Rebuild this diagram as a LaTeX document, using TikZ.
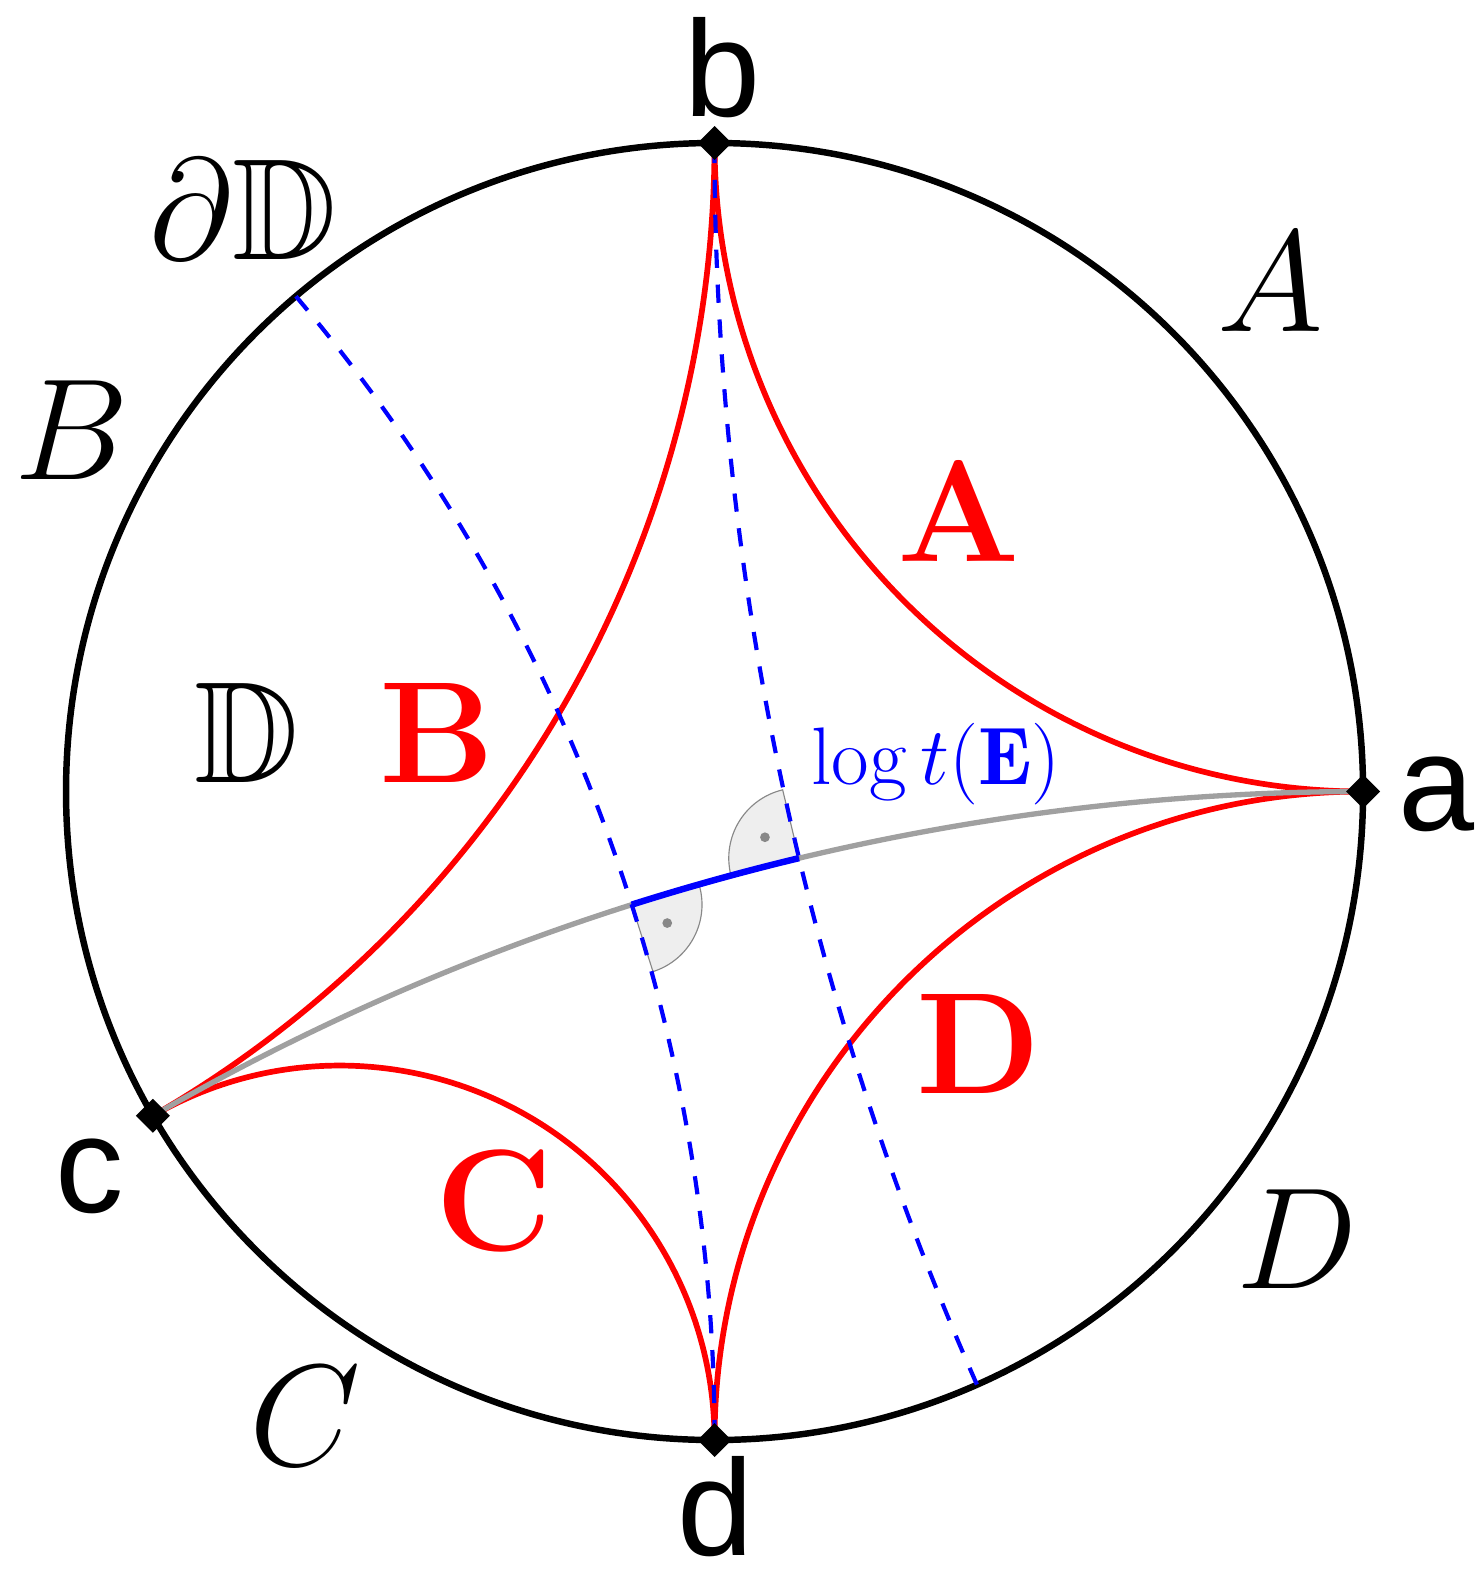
\RequirePackage{fix-cm}
\documentclass[tikz,border=0pt]{standalone}
\usepackage{amssymb}
\usepackage{fontspec}
\newfontfamily\sanslabel{Liberation Sans}
\usetikzlibrary{shapes.geometric}

\definecolor{geored}{RGB}{255, 0, 0}
\definecolor{geoblue}{RGB}{0, 0, 255}
\definecolor{geogray}{RGB}{160, 160, 160}
\definecolor{markfill}{RGB}{238, 238, 238}
\definecolor{markline}{RGB}{136, 136, 136}

\newcommand{\rdisk}{6}
% geodesic of the disk from angle #3 to angle #4, starting at point #2
\newcommand{\geodesic}[4][]{%
    \pgfmathsetmacro{\gmid}{(#3+#4)/2}%
    \pgfmathsetmacro{\ghalf}{(#4-#3)/2}%
    \pgfmathsetmacro{\grad}{\rdisk*tan(\ghalf)}%
    \draw[#1] (#2) arc[start angle=\gmid+270-\ghalf, end angle=\gmid+90+\ghalf, radius=\grad];
}

\tikzset{
    vertex/.style={diamond,fill=black,inner sep=0pt,minimum size=0.32cm},
    redgeo/.style={geored,line width=1.5pt},
    graygeo/.style={geogray,line width=1.4pt},
    dashgeo/.style={geoblue,line width=1.1pt,dash pattern=on 4.8pt off 4.4pt},
    rightmark/.style={fill=markfill,draw=markline,line width=0.3pt},
    ptlabel/.style={font=\sanslabel\fontsize{36}{40}\selectfont},
    arclabel/.style={font=\fontsize{38}{44}\selectfont},
    regionlabel/.style={font=\fontsize{38}{44}\selectfont\bfseries,text=geored}
}

\begin{document}
\begin{tikzpicture}
    \useasboundingbox (-6.611,-7.295) rectangle (7.101,7.323);

    % Ideal points
    \coordinate (a) at (0:\rdisk);
    \coordinate (b) at (90:\rdisk);
    \coordinate (c) at (210:\rdisk);
    \coordinate (d) at (270:\rdisk);
    \coordinate (bstar) at (293.865:\rdisk);
    \coordinate (dstar) at (130.21:\rdisk);

    % Feet of the perpendiculars
    \coordinate (FB) at (0.7817,-0.6165);
    \coordinate (FD) at (-0.7661,-1.0466);

    % Boundary circle
    \draw[line width=1.7pt] (0,0) circle (\rdisk);

    % Sides
    \geodesic[redgeo]{a}{0}{90}
    \geodesic[redgeo]{b}{90}{210}
    \geodesic[redgeo]{c}{210}{270}
    \geodesic[redgeo]{d}{270}{360}

    % Diagonal
    \geodesic[graygeo]{c}{210}{360}

    % Right angles
    \filldraw[rightmark] (FB) -- ++(103.48:0.65) arc[start angle=103.48, end angle=193.48, radius=0.65] -- cycle;
    \fill[markline] (FB) ++(148.48:0.37) circle (0.045);
    \filldraw[rightmark] (FD) -- ++(-72.41:0.65) arc[start angle=-72.41, end angle=17.59, radius=0.65] -- cycle;
    \fill[markline] (FD) ++(-27.41:0.37) circle (0.045);

    % Perpendiculars
    \geodesic[dashgeo]{bstar}{293.865}{450}
    \geodesic[dashgeo]{dstar}{130.21}{270}

    % Distance
    \draw[geoblue,line width=1.7pt] (FD) arc[start angle=107.59, end angle=103.48, radius=22.3926];

    % Vertices
    \foreach \p in {a,b,c,d}
        \node[vertex] (v\p) at (\p) {};

    % Labels
    \node[ptlabel] (la) at (6.68,-0.03) {a};
    \node[ptlabel] (lb) at (0.07,6.70) {b};
    \node[ptlabel] (lc) at (-5.78,-3.56) {c};
    \node[ptlabel] (ld) at (0.01,-6.62) {d};

    \node[arclabel] (arcA) at (5.14,4.71) {$A$};
    \node[arclabel] (arcB) at (-5.95,3.34) {$B$};
    \node[arclabel] (arcC) at (-3.79,-5.78) {$C$};
    \node[arclabel] (arcD) at (5.39,-4.14) {$D$};
    \node[arclabel] (bdisk) at (-4.36,5.39) {$\partial\mathbb{D}$};
    \node[arclabel] (disk) at (-4.33,0.54) {$\mathbb{D}$};

    \node[regionlabel] (regA) at (2.26,2.60) {A};
    \node[regionlabel] (regB) at (-2.57,0.54) {B};
    \node[regionlabel] (regC) at (-2.04,-3.79) {C};
    \node[regionlabel] (regD) at (2.44,-2.34) {D};

    \node[text=geoblue,font=\fontsize{21.5}{24}\selectfont] (logt) at (2.05,0.25) {$\log t(\mathbf{E})$};
\end{tikzpicture}
\end{document}
